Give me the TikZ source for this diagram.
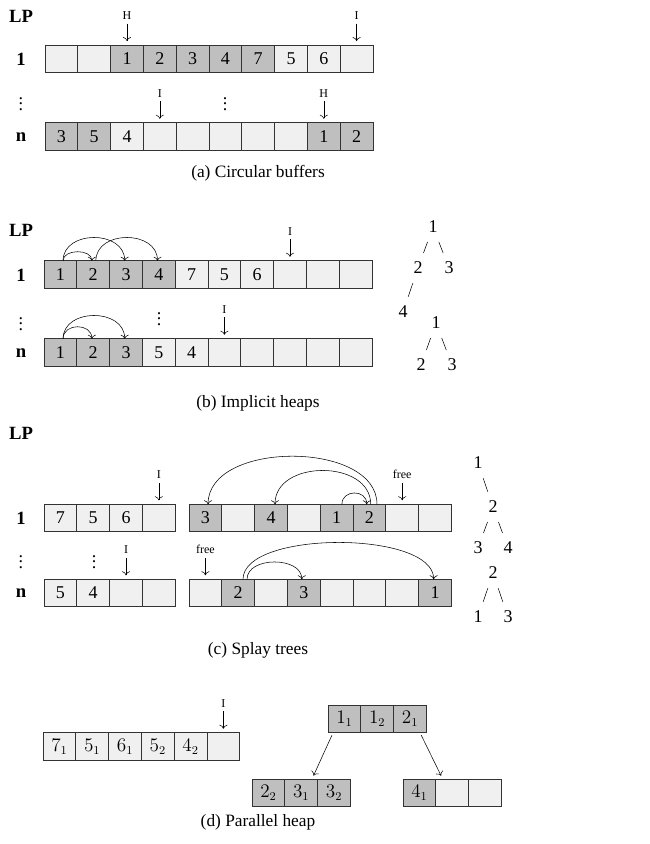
\documentclass[tikz,border=0pt]{standalone}
\usepackage{fontspec}
\setmainfont{Liberation Serif}
\usetikzlibrary{positioning,calc,arrows.meta}

\definecolor{heapgray}{gray}{0.75}
\definecolor{slotgray}{gray}{0.94}

% one row of slots: name, left x, middle y, {value/fill,...}
\newcommand{\slotrow}[4]{%
	\foreach \val/\col [count=\k] in {#4}
	\node[slot, fill=\col] (#1-\k) at ({#2+(\k-0.5)*32.8}, #3) {\val};
}

\begin{document}
\begin{tikzpicture}[
	x=0.75pt, y=-0.75pt,
	>={To[length=3pt,width=6pt]},
	every node/.style={font=\fontsize{13.5}{16}\selectfont},
	slot/.style={draw=black!80, line width=0.75pt, minimum width=24.6pt,
		minimum height=20.6pt, inner sep=0pt, outer sep=0pt},
	lp/.style={font=\fontsize{14}{16}\selectfont\bfseries},
	dots/.style={inner sep=0pt},
	tag/.style={font=\fontsize{9}{11}\selectfont, inner sep=1pt},
	ptr/.style={->, thin, shorten >=3pt, shorten <=2pt},
	jump/.style={->, thin},
	branch/.style={thin, shorten <=12pt, shorten >=12pt},
	caption/.style={font=\fontsize{13}{15}\selectfont}
	]
	\useasboundingbox (0,0) rectangle (650,844);

	% (a) circular buffers
	\node[lp] (lpA) at (21,16) {LP};
	\node[lp] (oneA) at (21,59) {1};
	\node[dots] (dotsA) at (21,100) {$\vdots$};
	\node[lp] (nA) at (21,137) {n};
	\slotrow{a1}{45}{58.8}{{}/slotgray, {}/slotgray, 1/heapgray, 2/heapgray, 3/heapgray, 4/heapgray, 7/heapgray, 5/slotgray, 6/slotgray, {}/slotgray}
	\slotrow{an}{45}{136.5}{3/heapgray, 5/heapgray, 4/slotgray, {}/slotgray, {}/slotgray, {}/slotgray, {}/slotgray, {}/slotgray, 1/heapgray, 2/heapgray}
	\node[dots] (dotsA2) at (225,100) {$\vdots$};
	\node[tag, above=18pt of a1-3] (headA1) {H};
	\node[tag, above=18pt of a1-10] (insA1) {I};
	\node[tag, above=18pt of an-4] (insAn) {I};
	\node[tag, above=18pt of an-9] (headAn) {H};
	\draw[ptr] (headA1) -- (a1-3);
	\draw[ptr] (insA1) -- (a1-10);
	\draw[ptr] (insAn) -- (an-4);
	\draw[ptr] (headAn) -- (an-9);
	\node[caption] (capA) at (258,173) {(a) Circular buffers};

	% (b) implicit heaps
	\node[lp] (lpB) at (21,230) {LP};
	\node[lp] (oneB) at (21,275) {1};
	\node[dots] (dotsB) at (21,320) {$\vdots$};
	\node[lp] (nB) at (21,353) {n};
	\slotrow{b1}{44}{274.5}{1/heapgray, 2/heapgray, 3/heapgray, 4/heapgray, 7/slotgray, 5/slotgray, 6/slotgray, {}/slotgray, {}/slotgray, {}/slotgray}
	\slotrow{bn}{44}{352.5}{1/heapgray, 2/heapgray, 3/heapgray, 5/slotgray, 4/slotgray, {}/slotgray, {}/slotgray, {}/slotgray, {}/slotgray, {}/slotgray}
	\node[dots] (dotsB2) at (159,315) {$\vdots$};
	\node[tag, above=18pt of b1-8] (insB1) {I};
	\node[tag, above=18pt of bn-6] (insBn) {I};
	\draw[ptr] (insB1) -- (b1-8);
	\draw[ptr] (insBn) -- (bn-6);
	\draw[jump] ([xshift=2pt]b1-1.north) .. controls +(0,-12) and +(0,-12) .. ([xshift=-1pt]b1-2.north);
	\draw[jump] ([xshift=2pt]b1-1.north) .. controls +(0,-31) and +(0,-31) .. ([xshift=-1pt]b1-3.north);
	\draw[jump] ([xshift=2pt]b1-2.north) .. controls +(0,-31) and +(0,-31) .. ([xshift=-1pt]b1-4.north);
	\draw[jump] ([xshift=2pt]bn-1.north) .. controls +(0,-16) and +(0,-16) .. ([xshift=-1pt]bn-2.north);
	\draw[jump] ([xshift=2pt]bn-1.north) .. controls +(0,-31) and +(0,-31) .. ([xshift=-1pt]bn-3.north);
	% heap trees
	\node (bt1) at (433,227) {1};
	\node (bt2) at (418,268) {2};
	\node (bt3) at (449,268) {3};
	\node (bt4) at (403,312) {4};
	\draw[branch] (bt1.center) -- (bt2.center);
	\draw[branch] (bt1.center) -- (bt3.center);
	\draw[branch] (bt2.center) -- (bt4.center);
	\node (bu1) at (436,323) {1};
	\node (bu2) at (421,365) {2};
	\node (bu3) at (452,365) {3};
	\draw[branch] (bu1.center) -- (bu2.center);
	\draw[branch] (bu1.center) -- (bu3.center);
	\node[caption] (capB) at (258,403) {(b) Implicit heaps};

	% (c) splay trees
	\node[lp] (lpC) at (21,433) {LP};
	\node[lp] (oneC) at (21,518) {1};
	\node[dots] (dotsC) at (21,558) {$\vdots$};
	\node[lp] (nC) at (21,593) {n};
	\slotrow{cl1}{44}{518}{7/slotgray, 5/slotgray, 6/slotgray, {}/slotgray}
	\slotrow{cr1}{189}{518}{3/heapgray, {}/slotgray, 4/heapgray, {}/slotgray, 1/heapgray, 2/heapgray, {}/slotgray, {}/slotgray}
	\slotrow{cln}{44}{593}{5/slotgray, 4/slotgray, {}/slotgray, {}/slotgray}
	\slotrow{crn}{189}{593}{{}/slotgray, 2/heapgray, {}/slotgray, 3/heapgray, {}/slotgray, {}/slotgray, {}/slotgray, 1/heapgray}
	\node[dots] (dotsC2) at (94,558) {$\vdots$};
	\node[tag, above=18pt of cl1-4] (insC1) {I};
	\node[tag, above=18pt of cr1-7] (freeC1) {free};
	\node[tag, above=18pt of cln-3] (insCn) {I};
	\node[tag, above=18pt of crn-1] (freeCn) {free};
	\draw[ptr] (insC1) -- (cl1-4);
	\draw[ptr] (freeC1) -- (cr1-7);
	\draw[ptr] (insCn) -- (cln-3);
	\draw[ptr] (freeCn) -- (crn-1);
	\draw[jump] ([xshift=4pt]cr1-5.north) .. controls +(0,-15) and +(0,-15) .. ([xshift=-2pt]cr1-6.north);
	\draw[jump] ([xshift=1pt]cr1-6.north) .. controls +(0,-45) and +(0,-45) .. ([xshift=3pt]cr1-3.north);
	\draw[jump] ([xshift=5.7pt]cr1-6.north) .. controls +(0,-64) and +(0,-64) .. ([xshift=2pt]cr1-1.north);
	\draw[jump] ([xshift=6.6pt]crn-2.north) .. controls +(0,-23) and +(0,-23) .. ([xshift=-1.5pt]crn-4.north);
	\draw[jump] ([xshift=3.6pt]crn-2.north) .. controls +(0,-49) and +(0,-49) .. ([xshift=-1pt]crn-8.north);
	% splay trees
	\node (ct1) at (478,463) {1};
	\node (ct2) at (493,507) {2};
	\node (ct3) at (478,548) {3};
	\node (ct4) at (508,548) {4};
	\draw[branch] (ct1.center) -- (ct2.center);
	\draw[branch] (ct2.center) -- (ct3.center);
	\draw[branch] (ct2.center) -- (ct4.center);
	\node (cu2) at (493,573) {2};
	\node (cu1) at (478,617) {1};
	\node (cu3) at (508,617) {3};
	\draw[branch] (cu2.center) -- (cu1.center);
	\draw[branch] (cu2.center) -- (cu3.center);
	\node[caption] (capC) at (258,650) {(c) Splay trees};

	% (d) parallel heap
	\slotrow{dq}{43}{746.5}{$7_1$/slotgray, $5_1$/slotgray, $6_1$/slotgray, $5_2$/slotgray, $4_2$/slotgray, {}/slotgray}
	\node[tag, above=18pt of dq-6] (insD) {I};
	\draw[ptr] (insD) -- (dq-6);
	\slotrow{dt}{328}{719}{$1_1$/heapgray, $1_2$/heapgray, $2_1$/heapgray}
	\slotrow{dl}{252}{793}{$2_2$/heapgray, $3_1$/heapgray, $3_2$/heapgray}
	\slotrow{dr}{403}{793}{$4_1$/heapgray, {}/slotgray, {}/slotgray}
	\draw[ptr] ([xshift=-8.5pt]dt-1.south) -- ([xshift=8pt]dl-2.north);
	\draw[ptr] ([xshift=7.5pt]dt-3.south) -- ([xshift=-7pt]dr-2.north);
	\node[caption] (capD) at (258,822) {(d) Parallel heap};
\end{tikzpicture}
\end{document}
